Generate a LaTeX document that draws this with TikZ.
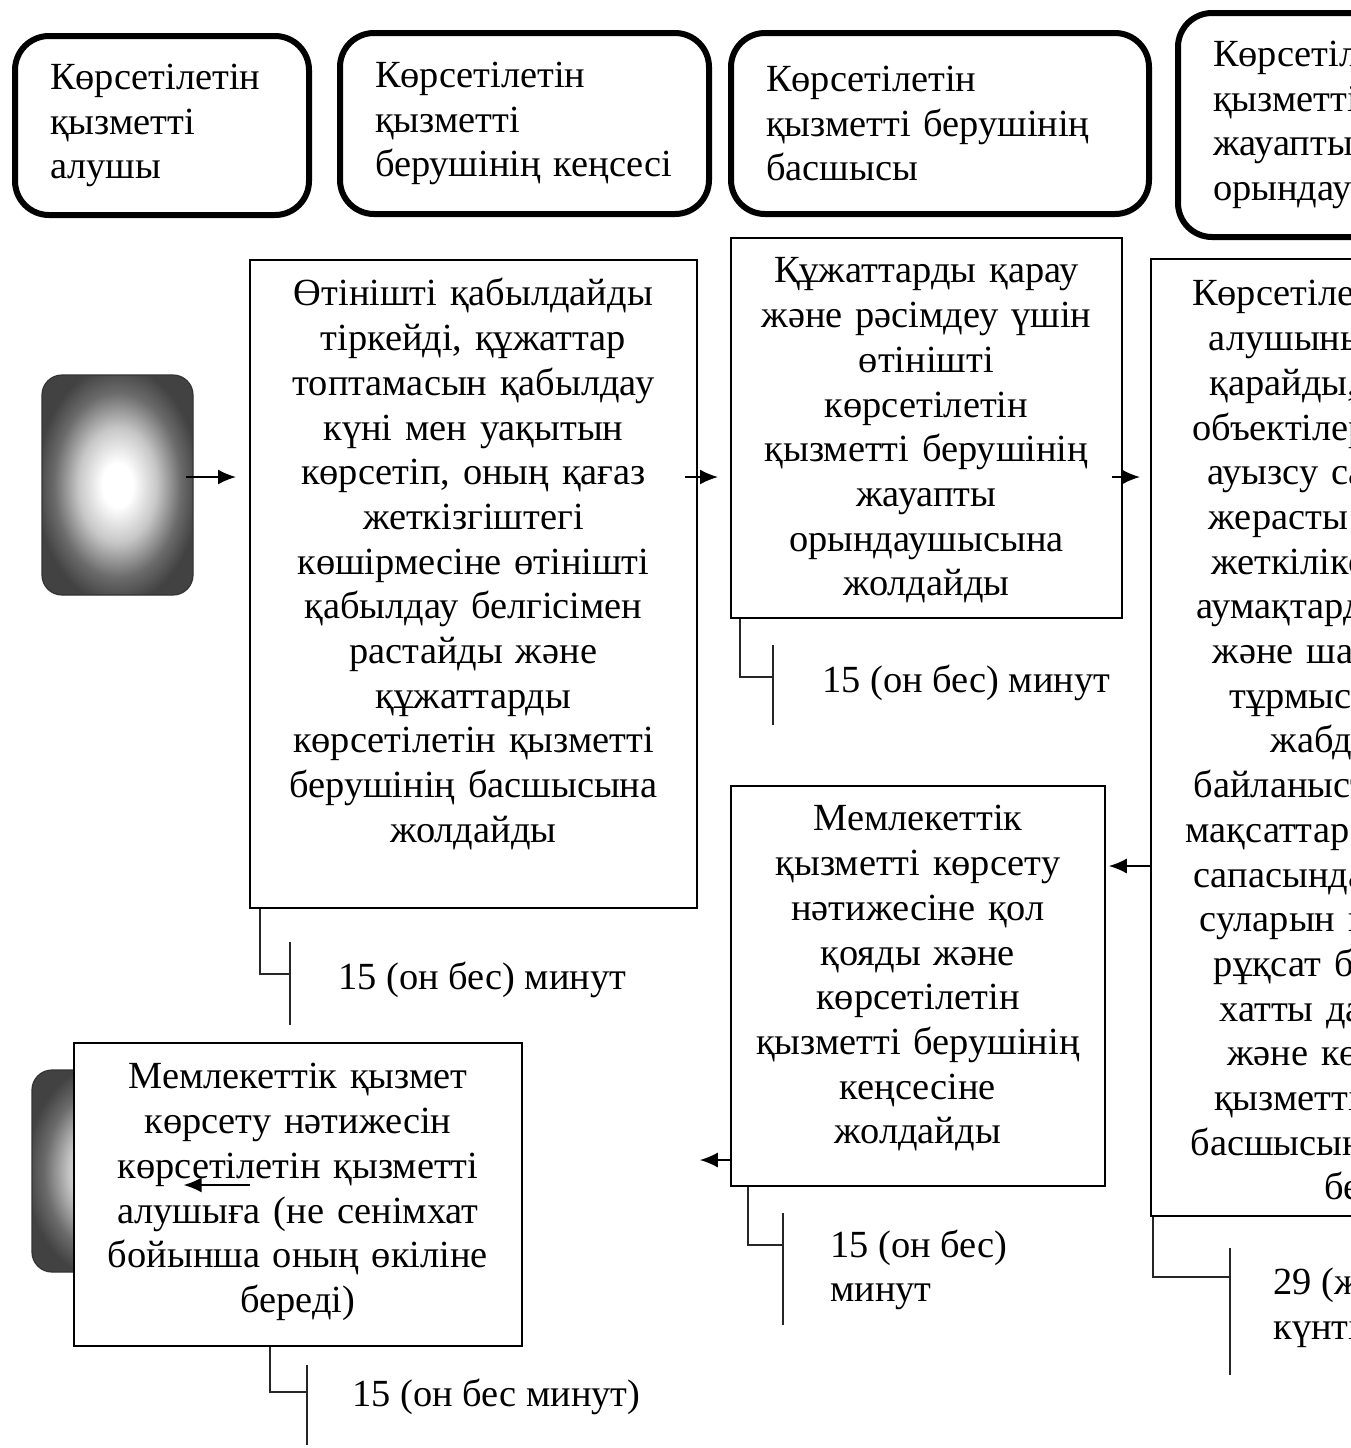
\documentclass[tikz,border=0pt]{standalone}
\usepackage{fontspec}
\setmainfont{Liberation Serif}
\usetikzlibrary{arrows.meta}
\pgfdeclareradialshading{startgrad}{\pgfpoint{0bp}{0bp}}{color(0bp)=(white); color(5bp)=(white); color(13bp)=(black!22); color(21bp)=(black!58); color(27bp)=(black!74); color(50bp)=(black!74)}
\tikzstyle{lane} = [draw=black, line width=3pt, rounded corners=17pt, align=left, inner xsep=17.5pt, inner ysep=0pt]
\tikzstyle{stepbox} = [draw=black, fill=white, line width=0.9pt, align=center, inner sep=0pt, anchor=north west]
\tikzstyle{term} = [draw=black!80, rounded corners=10pt, shading=startgrad, line width=0.6pt]
\tikzstyle{flow} = [->, line width=0.9pt]
\tikzstyle{tick} = [line width=0.9pt, black!85]
\tikzstyle{time} = [anchor=west, align=left, inner sep=0pt]

\begin{document}
\begin{tikzpicture}[x=0.5pt, y=-0.5pt, >={Latex[length=9pt,width=7.5pt]},
    every node/.style={font=\fontsize{19.2pt}{22.35pt}\selectfont}]
    \useasboundingbox (0,0) rectangle (1351,1448);
    \clip (0,0) rectangle (1351,1448);
    % lanes
    \node[lane, text width=112pt, minimum height=89.5pt](h1) at (162,125.5){Көрсетілетін\\қызметті\\алушы};
    \node[lane, text width=149.5pt, minimum height=90.5pt](h2) at (524.5,123.5){Көрсетілетін\\қызметті\\берушінің~кеңсесі};
    \node[lane, text width=174pt, minimum height=90.5pt](h3) at (940,123.5){Көрсетілетін\\қызметті берушінің\\басшысы};
    \node[lane, text width=174.5pt, minimum height=112pt](h4) at (1387.5,125){Көрсетілетін\\қызметті берушінің\\жауапты\\орындаушысы};
    % start and end
    \node[term, minimum width=75.5pt, minimum height=110pt](s1) at (117.5,485){};
    \node[term, minimum width=78pt, minimum height=101pt](s2) at (110,1171){};
    % steps
    \node[stepbox, text width=223.5pt, text height=23pt, text depth=301pt](b1) at (249,259){Өтінішті қабылдайды\\тіркейді, құжаттар\\топтамасын қабылдау\\күні мен уақытын\\көрсетіп, оның қағаз\\жеткізгіштегі\\көшірмесіне өтінішті\\қабылдау белгісімен\\растайды және\\құжаттарды\\көрсетілетін қызметті\\берушінің басшысына\\жолдайды};
    \node[stepbox, text width=195.5pt, text height=22.5pt, text depth=167.5pt](b2) at (730,237){Құжаттарды қарау\\және рәсімдеу үшін\\өтінішті\\көрсетілетін\\қызметті берушінің\\жауапты\\орындаушысына\\жолдайды};
    \node[stepbox, text width=225pt, text height=23.5pt, text depth=455pt](b4) at (1150,258){Көрсетілетін қызметті\\алушының құжатын\\қарайды, ауызсумен\\объектілерге арналған\\ауызсу сапасындағы\\жерасты суларының\\жеткіліксіз болатын\\аумақтарда өндірістік\\және шаруашылық-\\тұрмыстық сумен\\жабдықтауға\\байланысты емес осы\\мақсаттар үшін ауызсу\\сапасындағы жерасты\\суларын пайдалануға\\рұқсат беру туралы\\хатты дайындайды\\және көрсетілетін\\қызметті берушінің\\басшысына қол қоюға\\береді};
    \node[stepbox, text width=187pt, text height=22.5pt, text depth=177.5pt](b3) at (730,785){Мемлекеттік\\қызметті көрсету\\нәтижесіне қол\\қояды және\\көрсетілетін\\қызметті берушінің\\кеңсесіне\\жолдайды};
    \node[stepbox, text width=224pt, text height=23pt, text depth=128.5pt](b5) at (73,1042){Мемлекеттік қызмет\\көрсету нәтижесін\\көрсетілетін қызметті\\алушыға (не сенімхат\\бойынша оның өкіліне\\береді)};
    % flow
    \coordinate (r1) at (0,477);
    \coordinate (r2) at (0,866);
    \coordinate (r3) at (0,1160);
    \coordinate (r4) at (250,1185);
    \draw[flow, shorten <=-4pt, shorten >=6.5pt](s1.east |- r1)--(b1.west |- r1);
    \draw[flow, shorten <=-6.5pt, shorten >=6pt](b1.east |- r1)--(b2.west |- r1);
    \draw[flow, shorten <=-5.5pt, shorten >=5pt](b2.east |- r1)--(b4.west |- r1);
    \draw[flow, shorten >=1.5pt](b4.west |- r2)--(b3.east |- r2);
    \draw[flow, shorten >=88.5pt](b3.west |- r3)--(b5.east |- r3);
    \draw[flow, shorten >=-2.5pt](r4)--(s2.east |- r4);
    % times
    \draw[tick]([xshift=5.5pt]b1.south west)--++(0,65)--++(30,0);
    \draw[tick](290,942)--(290,1025);
    \node[time](t1) at (338,980){15 (он бес) минут};
    \draw[tick]([xshift=5pt]b2.south west)--++(0,58)--++(33,0);
    \draw[tick](773,645)--(773,725);
    \node[time](t2) at (822,683){15 (он бес) минут};
    \draw[tick]([xshift=9pt]b3.south west)--++(0,58)--++(35,0);
    \draw[tick](783,1213)--(783,1325);
    \node[time](t3) at (830,1270){15 (он бес)\\минут};
    \draw[tick]([xshift=1.5pt]b4.south west)--++(0,60)--++(77,0);
    \draw[tick](1230,1248)--(1230,1375);
    \node[time](t4) at (1273,1308){29 (жиырма тоғыз)\\күнтізбелік күн};
    \draw[tick]([xshift=98.5pt]b5.south west)--++(0,45)--++(37,0);
    \draw[tick](307,1365)--(307,1445);
    \node[time](t5) at (352,1397){15 (он бес минут)};
  \end{tikzpicture}
\end{document}
